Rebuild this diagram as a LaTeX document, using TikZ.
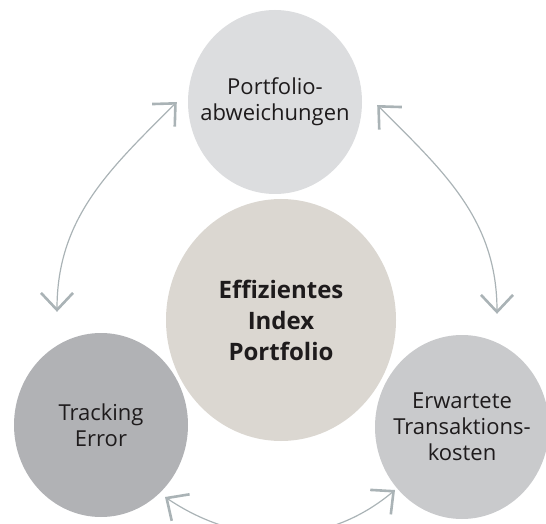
\documentclass[tikz,border=0pt]{standalone}
\usepackage{fontspec}
\setmainfont{Open Sans}
\usetikzlibrary{arrows.meta,shapes.geometric}

\definecolor{abwgrau}{HTML}{DCDDDF}
\definecolor{mittegrau}{HTML}{DBD7D1}
\definecolor{tegrau}{HTML}{B1B2B5}
\definecolor{tkgrau}{HTML}{C9CACC}
\definecolor{pfeilgrau}{HTML}{AAB3B6}
\definecolor{schrift}{HTML}{1E1B1C}

\tikzset{
  kreis/.style={ellipse, minimum width=174pt, minimum height=184pt, inner sep=-30pt,
    align=center, text=schrift, font=\fontsize{22}{26}\selectfont},
  spitze/.tip={Straight Barb[length=17pt, width=32pt, line width=2.6pt]},
  pfeil/.style={draw=pfeilgrau, line width=1.2pt, {spitze}-{spitze}}
}

\begin{document}
\begin{tikzpicture}[x=1pt,y=1pt]
\useasboundingbox (0,0) rectangle (546,523);
% die vier Kreise
\node[kreis, fill=abwgrau] (abw) at (275,421) {Portfolio-\\abweichungen};
\node[kreis, fill=mittegrau, minimum width=230pt, minimum height=242pt,
  font=\bfseries\fontsize{24}{31}\selectfont] (eip) at (281,203) {Effizientes\\Index\\Portfolio};
\node[kreis, fill=tegrau] (te) at (101,98) {Tracking\\Error};
\node[kreis, fill=tkgrau] (tk) at (462,96) {Erwartete\\Transaktions-\\kosten};
% Enden der Pfeile
\coordinate (abwL) at ([xshift=-11pt]abw.west);
\coordinate (abwR) at ([xshift=15pt,yshift=-3pt]abw.east);
\coordinate (teO) at ([xshift=-44pt,yshift=21pt]te.north);
\coordinate (teU) at ([xshift=64pt,yshift=-72pt]te.center);
\coordinate (tkO) at ([xshift=35pt,yshift=21pt]tk.north);
\coordinate (tkU) at ([xshift=-67pt,yshift=-63pt]tk.center);
% Pfeile
\draw[pfeil] (abwL) to[out=225,in=90] (teO);
\draw[pfeil] (abwR) to[out=-45,in=90] (tkO);
\draw[pfeil] (teU) to[out=-34,in=220] (tkU);
\end{tikzpicture}
\end{document}
